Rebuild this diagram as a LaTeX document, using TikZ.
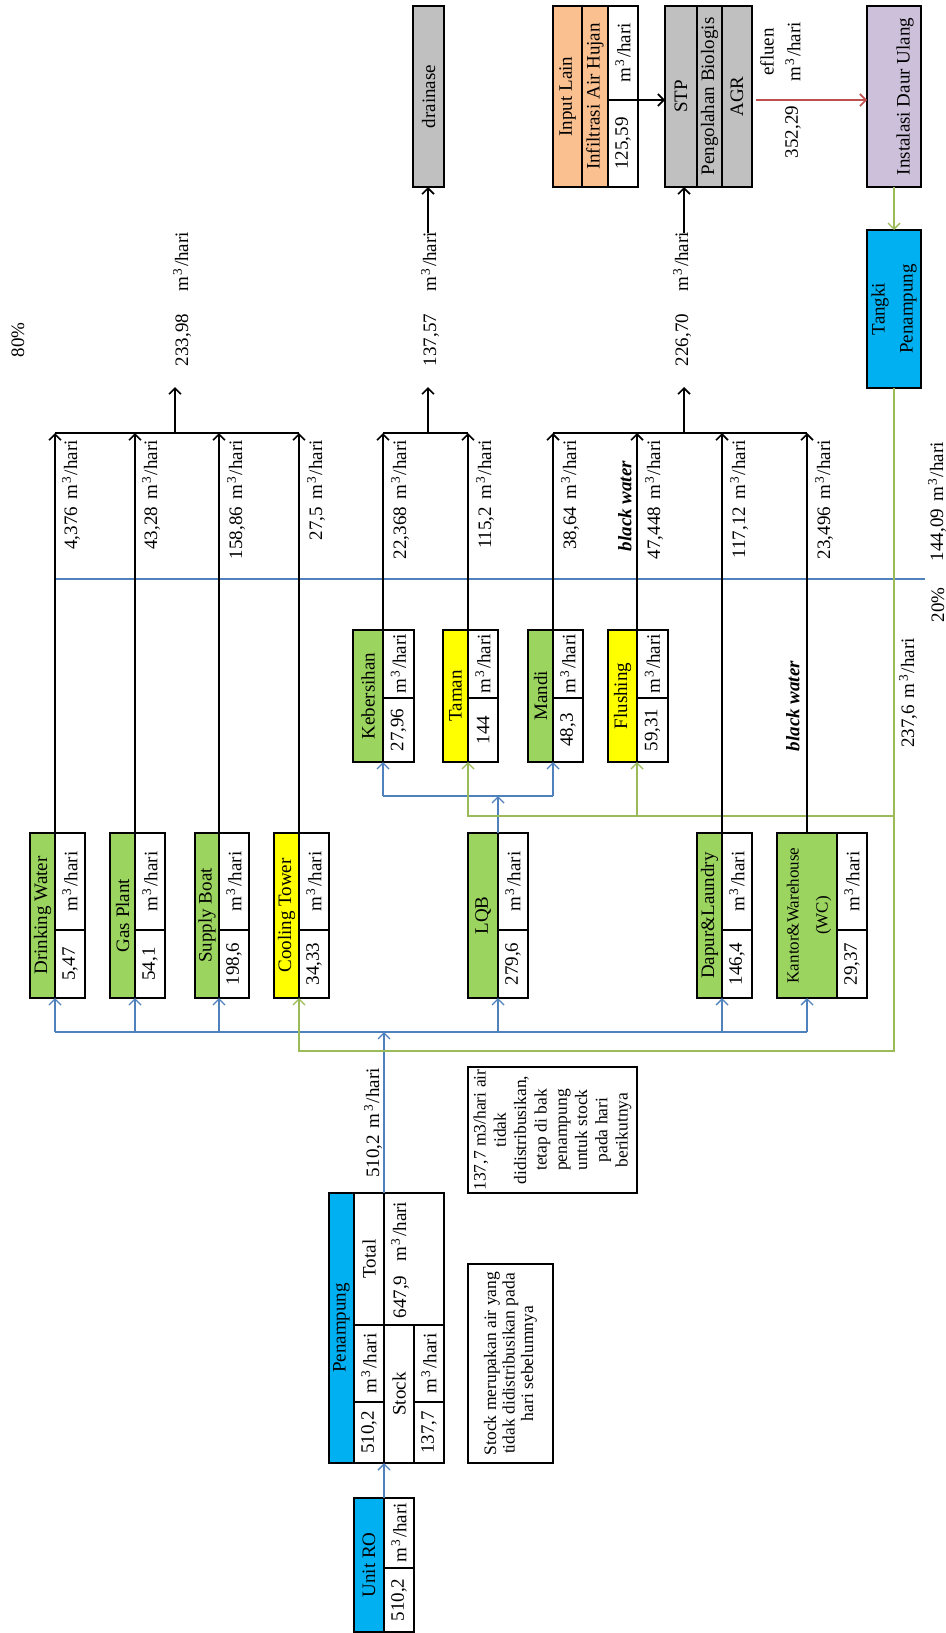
\documentclass[tikz,border=0pt]{standalone}
\usepackage{fontspec}
\setmainfont{Liberation Serif}
\usetikzlibrary{arrows.meta,calc}
\definecolor{cblue}{HTML}{00B0F0}
\definecolor{cgreen}{RGB}{155,213,95}
\definecolor{cyellow}{HTML}{FFFF00}
\definecolor{cgray}{HTML}{C0C0C0}
\definecolor{cpeach}{HTML}{FAC090}
\definecolor{clav}{HTML}{CCC0DA}
\definecolor{lblue}{HTML}{4F81BD}
\definecolor{lgreen}{HTML}{9BBB59}
\definecolor{lred}{HTML}{C0504D}
\newcommand\mhari{m\hspace{1.5pt}\textsuperscript{3}\hspace{1.5pt}/hari}
\tikzset{
 cellbox/.style={draw=black, line width=1.8pt, inner sep=0pt, outer sep=0pt, rectangle},
 celltext/.style={rotate=90, inner sep=0pt, align=center},
 lbl/.style={rotate=90, inner sep=0pt},
 tip/.style={-{Straight Barb[length=6pt,width=12pt]}},
 blk/.style={black, line width=1.6pt},
 bl/.style={lblue, line width=1.4pt},
 gr/.style={lgreen, line width=1.4pt},
 rd/.style={lred, line width=1.6pt},
}
\newcommand\cellnode[7]{%
 \node[cellbox, fill=#6, minimum width={(#4)-(#2)}, minimum height={(#5)-(#3)}] (#1) at ({((#2)+(#4))/2},{((#3)+(#5))/2}) {};
 \node[celltext] (#1t) at (#1.center) {#7};}
\begin{document}
\begin{tikzpicture}[x=1pt,y=-1pt, font=\fontsize{19}{23}\selectfont]
\useasboundingbox (0,0) rectangle (945,1633);
\fill[white] (0,0) rectangle (945,1633);

% ---------- coordinates of collectors ----------
\coordinate (busb) at (0,1032);
\coordinate (busg) at (0,1051);
\coordinate (busl) at (0,796);
\coordinate (busgt) at (0,816);
\coordinate (colb) at (0,433);
\coordinate (bend) at (925,579);

% ---------- long blue line (drawn first) ----------
\coordinate (bstart) at (54,579);
\draw[bl] (bstart) -- (bend);

% ---------- Unit RO ----------
\cellnode{ros}{354}{1498}{384}{1632}{cblue}{Unit RO}
\cellnode{rou}{384}{1498}{414}{1568}{white}{\mhari}
\cellnode{rov}{384}{1568}{414}{1632}{white}{510,2}

% ---------- Penampung ----------
\cellnode{pns}{329}{1193}{354}{1463}{cblue}{Penampung}
\cellnode{pnt}{354}{1193}{384}{1325}{white}{Total}
\cellnode{pnu}{354}{1325}{384}{1402}{white}{\mhari}
\cellnode{pnv}{354}{1402}{384}{1463}{white}{510,2}
\cellnode{pntot}{384}{1193}{444}{1325}{white}{}
\node[lbl] (pntotv) at (400,1260) {647,9\hspace{14pt}\mhari};
\cellnode{pnst}{384}{1325}{414}{1463}{white}{Stock}
\cellnode{pnsu}{414}{1325}{444}{1402}{white}{\mhari}
\cellnode{pnsv}{414}{1402}{444}{1463}{white}{137,7}

% ---------- notes ----------
\node[cellbox, fill=white, minimum width=85, minimum height=199] (note1) at (510.5,1363.5) {};
\node[lbl, align=center, font=\fontsize{17.5}{18.5}\selectfont] (note1t) at (note1.center) {Stock merupakan air yang\\tidak didistribusikan pada\\hari sebelumnya};
\node[cellbox, fill=white, minimum width=169, minimum height=126] (note2) at (552.5,1130) {};
\node[lbl, align=center, font=\fontsize{17.5}{20.3}\selectfont] (note2t) at (note2.center) {137,7 m3/hari air\\tidak\\didistribusikan,\\tetap di bak\\penampung\\untuk stock\\pada hari\\berikutnya};

% ---------- consumers row 1 ----------
\cellnode{dws}{30}{833}{55}{998}{cgreen}{Drinking Water}
\cellnode{dwu}{55}{833}{85}{930}{white}{\mhari}
\cellnode{dwv}{55}{930}{85}{998}{white}{5,47}
\cellnode{gps}{110}{833}{135}{998}{cgreen}{Gas Plant}
\cellnode{gpu}{135}{833}{165}{930}{white}{\mhari}
\cellnode{gpv}{135}{930}{165}{998}{white}{54,1}
\cellnode{sbs}{195}{833}{219}{998}{cgreen}{Supply Boat}
\cellnode{sbu}{219}{833}{249}{930}{white}{\mhari}
\cellnode{sbv}{219}{930}{249}{998}{white}{198,6}
\cellnode{cts}{274}{833}{299}{998}{cyellow}{Cooling Tower}
\cellnode{ctu}{299}{833}{329}{930}{white}{\mhari}
\cellnode{ctv}{299}{930}{329}{998}{white}{34,33}
\cellnode{lqs}{468}{833}{498}{998}{cgreen}{LQB}
\cellnode{lqu}{498}{833}{528}{930}{white}{\mhari}
\cellnode{lqv}{498}{930}{528}{998}{white}{279,6}
\cellnode{dls}{697}{833}{722}{998}{cgreen}{Dapur\&Laundry}
\cellnode{dlu}{722}{833}{752}{930}{white}{\mhari}
\cellnode{dlv}{722}{930}{752}{998}{white}{146,4}
\cellnode{kws}{777}{833}{837}{998}{cgreen}{}
\node[lbl, align=center, font=\fontsize{17}{29}\selectfont] (kwst) at (809,915.5) {Kantor\&Warehouse\\(WC)};
\cellnode{kwu}{837}{833}{867}{930}{white}{\mhari}
\cellnode{kwv}{837}{930}{867}{998}{white}{29,37}

% ---------- consumers row 2 ----------
\cellnode{kbs}{353}{630}{383}{762}{cgreen}{Kebersihan}
\cellnode{kbu}{383}{630}{414}{698}{white}{\mhari}
\cellnode{kbv}{383}{698}{414}{762}{white}{27,96}
\cellnode{tms}{443}{630}{468}{762}{cyellow}{Taman}
\cellnode{tmu}{468}{630}{498}{698}{white}{\mhari}
\cellnode{tmv}{468}{698}{498}{762}{white}{144}
\cellnode{mds}{528}{630}{553}{762}{cgreen}{Mandi}
\cellnode{mdu}{553}{630}{583}{698}{white}{\mhari}
\cellnode{mdv}{553}{698}{583}{762}{white}{48,3}
\cellnode{fls}{608}{630}{637}{762}{cyellow}{Flushing}
\cellnode{flu}{637}{630}{668}{698}{white}{\mhari}
\cellnode{flv}{637}{698}{668}{762}{white}{59,31}

% ---------- top row ----------
\cellnode{dr}{413}{6}{444}{187}{cgray}{drainase}
\cellnode{ins1}{553}{6}{582}{187}{cpeach}{Input Lain}
\cellnode{ins2}{582}{6}{608}{187}{cpeach}{Infiltrasi Air Hujan}
\cellnode{inu}{608}{6}{638}{100}{white}{\mhari}
\cellnode{inv}{608}{100}{638}{187}{white}{125,59}
\cellnode{stp1}{665}{6}{697}{187}{cgray}{STP}
\cellnode{stp2}{697}{6}{722}{187}{cgray}{Pengolahan Biologis}
\cellnode{stp3}{722}{6}{752}{187}{cgray}{AGR}
\cellnode{idu}{867}{6}{921}{187}{clav}{}
\node[lbl] (idut) at (905,96.5) {Instalasi Daur Ulang};
\cellnode{tgk}{867}{230}{921}{388}{cblue}{}
\node[lbl, align=center, font=\fontsize{19}{28}\selectfont] (tgkt) at (tgk.center) {Tangki\\Penampung};

% ---------- blue connectors ----------
\draw[bl,tip] (ros.north east) -- (pnv.south east);
\draw[bl,tip] (pnt.north east) -- (pnt.north east |- busb);
\draw[bl] (dws.south east |- busb) -- (kws.south |- busb);
\foreach \n in {dws,gps,sbs,lqs,dls}{
  \draw[bl,tip] (\n.south east |- busb) -- (\n.south east);
}
\draw[bl,tip] (kws.south |- busb) -- (kws.south);
\draw[bl,tip] (lqs.north east) -- (lqs.north east |- busl);
\draw[bl] (kbs.south east |- busl) -- (mds.south east |- busl);
\draw[bl,tip] (kbs.south east |- busl) -- (kbs.south east);
\draw[bl,tip] (mds.south east |- busl) -- (mds.south east);

% ---------- green connectors ----------
\draw[gr,tip] (idu.south) -- (tgk.north);
\draw[gr,tip] (tgk.south) -- (tgk.south |- busg) -- (cts.south east |- busg) -- (cts.south east);
\draw[gr,tip] (tgk.south |- busgt) -- (tms.south east |- busgt) -- (tms.south east);
\draw[gr,tip] (fls.south east |- busgt) -- (fls.south east);

% ---------- black connectors ----------
\foreach \n in {dws,gps,sbs,cts,kbs,tms,mds,fls,dls}{
  \draw[blk,tip] (\n.north east) -- (\n.north east |- colb);
}
\draw[blk,tip] (kws.north) -- (kws.north |- colb);
\draw[blk] (dws.north east |- colb) -- (cts.north east |- colb);
\draw[blk] (kbs.north east |- colb) -- (tms.north east |- colb);
\draw[blk] (mds.north east |- colb) -- (kws.north |- colb);
\coordinate (o1) at (175,433); \coordinate (o1t) at (175,387);
\coordinate (o2) at (428,433); \coordinate (o2t) at (428,387); \coordinate (o2b) at (428,233);
\coordinate (o3) at (684,433); \coordinate (o3t) at (684,387); \coordinate (o3b) at (684,233);
\draw[blk,tip] (o1) -- (o1t);
\draw[blk,tip] (o2) -- (o2t);
\draw[blk,tip] (o2b) -- (o2b |- dr.south);
\draw[blk,tip] (o3) -- (o3t);
\draw[blk,tip] (o3b) -- (o3b |- stp1.south);
\draw[blk,tip] (inu.south east) -- (stp1.west |- inu.south east);
\draw[rd,tip] ([xshift=4pt]stp3.east |- inu.south east) -- (idu.west |- inu.south east);

% ---------- labels ----------
\node[lbl, anchor=east] (l1) at (71,440) {4,376\hspace{7pt}\mhari};
\node[lbl, anchor=east] (l2) at (151,440) {43,28\hspace{7pt}\mhari};
\node[lbl, anchor=east] (l3) at (236,440) {158,86\hspace{7pt}\mhari};
\node[lbl, anchor=east] (l4) at (316,440) {27,5\hspace{7pt}\mhari};
\node[lbl, anchor=east] (l5) at (400,440) {22,368\hspace{7pt}\mhari};
\node[lbl, anchor=east] (l6) at (485,440) {115,2\hspace{7pt}\mhari};
\node[lbl, anchor=east] (l7) at (570,440) {38,64\hspace{7pt}\mhari};
\node[lbl, anchor=east] (l8) at (654,440) {47,448\hspace{7pt}\mhari};
\node[lbl, anchor=east] (l9) at (739,440) {117,12\hspace{7pt}\mhari};
\node[lbl, anchor=east] (l10) at (824,440) {23,496\hspace{7pt}\mhari};
\node[lbl, anchor=east] (l11) at (937,442) {144,09\hspace{7pt}\mhari};
\node[lbl] (bw1) at (625,506) {\textbf{\textit{black water}}};
\node[lbl] (bw2) at (793,706) {\textbf{\textit{black water}}};
\node[lbl] (l12) at (908,693) {237,6\hspace{7pt}\mhari};
\node[lbl] (l13) at (373,1123) {510,2\hspace{7pt}\mhari};
\node[lbl] (p80) at (18,340) {80\%};
\node[lbl] (p20) at (938,605) {20\%};
\node[lbl] (s1) at (182,299) {233,98\hspace{22pt}\mhari};
\node[lbl] (s2) at (430,299) {137,57\hspace{22pt}\mhari};
\node[lbl] (s3) at (682,299) {226,70\hspace{22pt}\mhari};
\node[lbl] (ef) at (767,52) {efluen};
\node[lbl] (efu) at (793,52) {\mhari};
\node[lbl] (efv) at (793,132) {352,29};
\end{tikzpicture}
\end{document}
